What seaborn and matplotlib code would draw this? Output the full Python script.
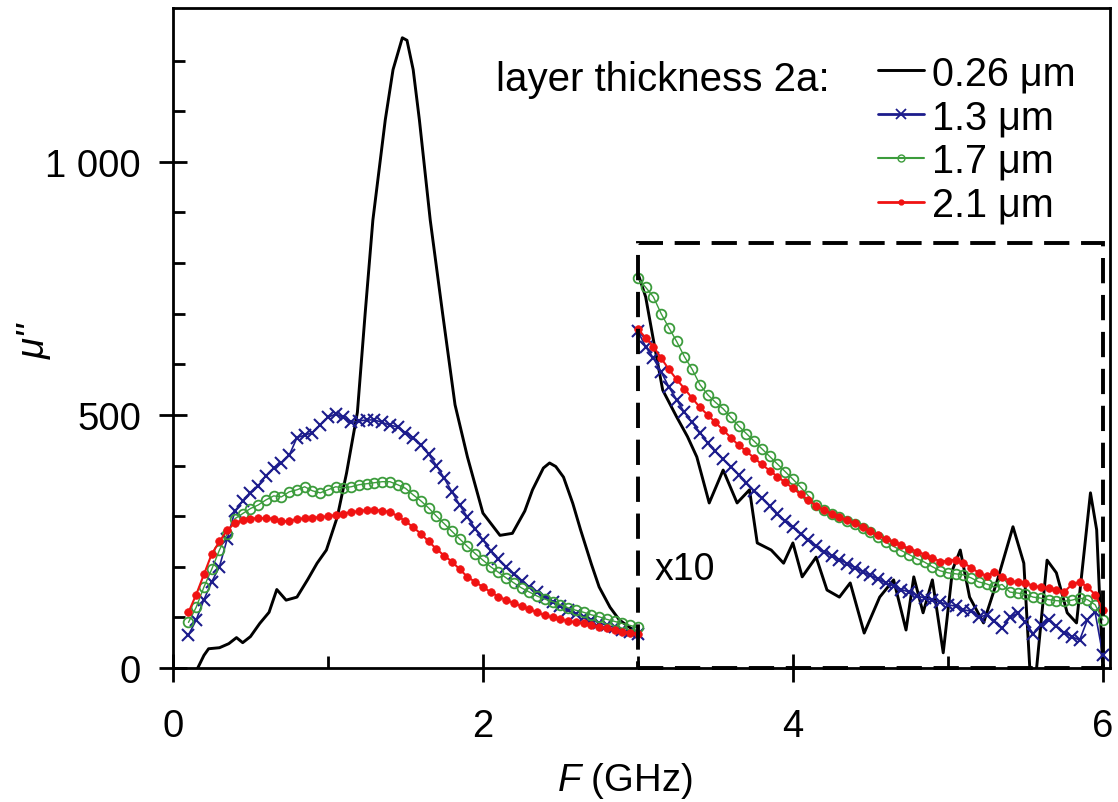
import numpy as np
import pandas as pd
import seaborn as sns
import matplotlib.pyplot as plt
from matplotlib.patches import Rectangle
from matplotlib.lines import Line2D

# ---- data (values right of 3 GHz are shown x10) ----
f_low = [0.10, 0.15, 0.20, 0.25, 0.30, 0.35, 0.40, 0.45, 0.50, 0.55, 0.60, 0.65, 0.70, 0.75,
         0.80, 0.85, 0.90, 0.95, 1.00, 1.05, 1.10, 1.15, 1.20, 1.25, 1.30, 1.35, 1.40, 1.45,
         1.50, 1.55, 1.60, 1.65, 1.70, 1.75, 1.80, 1.85, 1.90, 1.95, 2.00, 2.05, 2.10, 2.15,
         2.20, 2.25, 2.30, 2.35, 2.40, 2.45, 2.50, 2.55, 2.60, 2.65, 2.70, 2.75, 2.80, 2.85,
         2.90, 2.95, 3.00]
f_high = [3.00, 3.05, 3.10, 3.15, 3.20, 3.25, 3.30, 3.35, 3.40, 3.45, 3.50, 3.55, 3.60, 3.65,
          3.70, 3.75, 3.80, 3.85, 3.90, 3.95, 4.00, 4.05, 4.10, 4.15, 4.20, 4.25, 4.30, 4.35,
          4.40, 4.45, 4.50, 4.55, 4.60, 4.65, 4.70, 4.75, 4.80, 4.85, 4.90, 4.95, 5.00, 5.05,
          5.10, 5.15, 5.20, 5.25, 5.30, 5.35, 5.40, 5.45, 5.50, 5.55, 5.60, 5.65, 5.70, 5.75,
          5.80, 5.85, 5.90, 5.95, 6.00]

mu_13_low = [65, 95, 135, 170, 200, 255, 310, 330, 345, 360, 380, 395, 405, 420,
             455, 460, 465, 480, 495, 502, 495, 485, 488, 490, 490, 485, 480, 476,
             465, 455, 440, 422, 400, 375, 348, 322, 298, 275, 253, 232, 215, 200,
             185, 172, 160, 150, 140, 131, 122, 114, 107, 101, 95, 89, 84, 80,
             76, 71, 67]
mu_17_low = [90, 120, 160, 195, 233, 265, 295, 305, 315, 322, 332, 340, 338, 348,
             352, 358, 350, 346, 352, 358, 356, 358, 362, 364, 366, 368, 368, 362,
             355, 342, 330, 316, 300, 285, 270, 255, 240, 226, 213, 200, 189, 178,
             168, 158, 150, 142, 136, 131, 125, 119, 114, 110, 105, 101, 96, 92,
             88, 84, 80]
mu_21_low = [110, 145, 185, 225, 250, 272, 287, 292, 295, 296, 296, 295, 290, 290,
             294, 296, 297, 298, 300, 302, 305, 308, 310, 312, 312, 311, 308, 300,
             290, 278, 265, 250, 235, 222, 210, 195, 180, 170, 160, 150, 141, 134,
             128, 122, 116, 110, 104, 100, 96, 93, 90, 88, 84, 81, 78, 75,
             72, 70, 67]

mu_13_high = [665, 635, 612, 585, 555, 530, 505, 485, 465, 445, 428, 412, 398, 382,
              366, 350, 335, 320, 305, 290, 278, 265, 252, 240, 230, 222, 214, 206,
              198, 190, 183, 176, 168, 162, 155, 150, 143, 138, 134, 130, 125, 122,
              115, 112, 100, 105, 92, 78, 100, 108, 90, 68, 85, 95, 82, 70,
              62, 55, 95, 110, 25]
mu_17_high = [770, 752, 733, 700, 672, 645, 615, 590, 560, 540, 525, 512, 495, 478,
              463, 448, 433, 418, 403, 388, 373, 357, 340, 322, 312, 305, 298, 290,
              285, 277, 268, 258, 248, 240, 232, 224, 216, 209, 200, 192, 188, 186,
              184, 178, 170, 166, 160, 165, 150, 148, 146, 140, 138, 135, 133, 132,
              134, 138, 135, 125, 95]
mu_21_high = [670, 652, 635, 612, 590, 570, 552, 533, 515, 500, 485, 470, 455, 440,
              428, 415, 402, 390, 378, 367, 355, 343, 332, 320, 312, 305, 298, 292,
              286, 278, 270, 262, 254, 248, 242, 236, 230, 224, 218, 210, 212, 214,
              208, 198, 188, 182, 190, 180, 172, 170, 168, 162, 160, 158, 155, 150,
              165, 170, 160, 145, 115]

f_026_low = [0.10, 0.13, 0.16, 0.20, 0.23, 0.30, 0.36, 0.41, 0.45, 0.50, 0.56, 0.62, 0.67,
             0.73, 0.80, 0.87, 0.93, 0.99, 1.06, 1.12, 1.19, 1.24, 1.29, 1.37, 1.42, 1.48,
             1.51, 1.55, 1.59, 1.66, 1.74, 1.82, 1.90, 2.00, 2.11, 2.19, 2.27, 2.32, 2.39,
             2.43, 2.47, 2.52, 2.58, 2.63, 2.70, 2.75, 2.82, 2.88, 2.97, 3.00]
mu_026_low = [-8, -10, 0, 25, 38, 40, 48, 60, 50, 62, 88, 110, 155,
              134, 140, 175, 207, 233, 298, 385, 505, 700, 885, 1083, 1182, 1245,
              1240, 1182, 1083, 885, 700, 520, 417, 306, 262, 266, 310, 352, 395,
              405, 398, 377, 325, 273, 205, 160, 120, 95, 75, 70]
f_026_high = [3.00, 3.05, 3.10, 3.16, 3.25, 3.32, 3.38, 3.46, 3.55, 3.64, 3.72, 3.77, 3.86,
              3.94, 4.00, 4.06, 4.15, 4.22, 4.30, 4.37, 4.46, 4.56, 4.65, 4.73, 4.78, 4.84,
              4.90, 4.97, 5.03, 5.08, 5.14, 5.23, 5.32, 5.42, 5.49, 5.53, 5.57, 5.64, 5.70,
              5.77, 5.83, 5.92, 5.96, 6.00]
mu_026_high = [780, 733, 648, 549, 496, 457, 417, 326, 391, 326, 352, 247, 233,
               207, 247, 180, 219, 154, 140, 168, 69, 140, 174, 75, 180, 109,
               174, 30, 194, 233, 140, 89, 174, 279, 207, -8, -8, 213, 188,
               109, 89, 346, 273, -5]

# inset (x10) box bounds
box_f0, box_f1, box_top = 3.0, 6.0, 840

sns.set_style("ticks")
plt.rcParams["font.family"] = ["Liberation Sans", "DejaVu Sans"]
plt.rcParams["mathtext.fontset"] = "custom"
plt.rcParams["mathtext.it"] = "Liberation Sans:italic"
plt.rcParams["mathtext.rm"] = "Liberation Sans"
for k in ["text.color", "axes.labelcolor", "xtick.color", "ytick.color", "axes.edgecolor"]:
    plt.rcParams[k] = "black"

fig = plt.figure(figsize=(11.18, 8.03), dpi=100)
ax = fig.add_axes([0.1547, 0.1669, 0.838, 0.822])

blue = "#1c1c8c"
green = "#3c9c3c"
red = "#f01212"

styles = {
    "1.3": dict(color=blue, marker="x", markersize=8.5, markeredgewidth=1.5,
                markeredgecolor=blue, linewidth=1.2),
    "1.7": dict(color=green, marker="o", markersize=7, markeredgewidth=1.3,
                markerfacecolor="none", markeredgecolor=green, linewidth=1.0),
    "2.1": dict(color=red, marker="o", markersize=5.5, markeredgewidth=0.5,
                markeredgecolor=red, markerfacecolor=red, linewidth=1.5),
}

for f_seg, m026 in [(f_026_low, mu_026_low), (f_026_high, mu_026_high)]:
    sns.lineplot(x=f_seg, y=m026, ax=ax, color="black", linewidth=2.1,
                 sort=False, estimator=None)

for f_seg, a, b, c in [(f_low, mu_13_low, mu_17_low, mu_21_low),
                       (f_high, mu_13_high, mu_17_high, mu_21_high)]:
    for key, vals in [("1.3", a), ("1.7", b), ("2.1", c)]:
        sns.lineplot(x=f_seg, y=vals, ax=ax, sort=False, estimator=None, **styles[key])

ax.add_patch(Rectangle((box_f0, 0), box_f1 - box_f0, box_top, fill=False,
                       edgecolor="black", linewidth=2.8, linestyle=(0, (6.5, 3)),
                       zorder=5, clip_on=False))
ax.text(3.11, 195, "x10", fontsize=27, va="center", ha="left")

ax.set_xlim(0, 6.045)
ax.set_ylim(0, 1304)
ax.set_xticks([0, 2, 4, 6])
ax.set_xticks([1, 3, 5], minor=True)
ax.set_yticks([0, 500, 1000])
ax.set_yticklabels(["0", "500", "1 000"])
ax.set_yticks(np.arange(100, 1300, 100), minor=True)
ax.tick_params(which="major", direction="inout", length=20, width=2, labelsize=27.5)
ax.tick_params(axis="x", which="major", pad=19)
ax.tick_params(axis="y", which="major", pad=13)
ax.tick_params(which="minor", direction="in", length=8.5, width=2)
for sp in ax.spines.values():
    sp.set_linewidth(2)
    sp.set_visible(True)

ax.set_xlabel(r"$\mathit{F}$ (GHz)", fontsize=27.5)
ax.xaxis.set_label_coords(0.482, -0.14)
ax.set_ylabel("μ''", fontsize=27.5, style="italic")
ax.yaxis.set_label_coords(-0.128, 0.497)

handles = [
    Line2D([], [], color="black", linewidth=2.1),
    Line2D([], [], color=blue, marker="x", markersize=7, markeredgewidth=1.3, linewidth=2.0),
    Line2D([], [], color=green, marker="o", markersize=5, markerfacecolor="none",
           markeredgewidth=1.0, linewidth=1.5),
    Line2D([], [], color=red, marker="o", markersize=3.5, linewidth=2.0),
]
labels = ["0.26 μm", "1.3 μm", "1.7 μm", "2.1 μm"]
ax.legend(handles, labels, loc="upper left", bbox_to_anchor=(0.753, 0.93),
          frameon=False, fontsize=28.5, handlelength=1.15, handletextpad=0.2,
          labelspacing=0.15, borderaxespad=0, borderpad=0)
ax.text(0.345, 0.893, "layer thickness 2a:", transform=ax.transAxes, fontsize=29,
        va="center", ha="left")

fig.savefig("out.png", dpi=100)
